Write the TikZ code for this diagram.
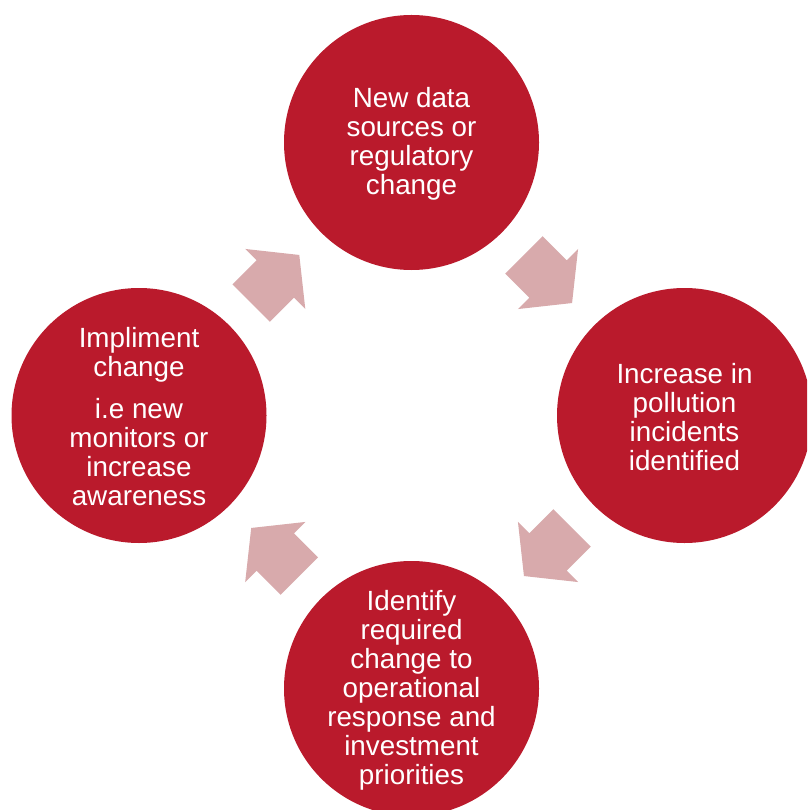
\documentclass[tikz,border=0pt]{standalone}
\usepackage{fontspec}
\setmainfont{Liberation Sans}
\usetikzlibrary{calc}

\definecolor{stagered}{RGB}{186,26,44}
\definecolor{arrowpink}{RGB}{216,170,172}

\tikzset{
  stage/.style={circle, fill=stagered, draw=none, minimum size=255pt, inner sep=0pt},
  stagetext/.style={text=white, align=center, inner sep=0pt, yshift=-1.5pt,
    font=\fontsize{27.8}{29}\selectfont},
  cyclearrow/.pic={
    \fill[arrowpink] (-34,-26.5) -- (0,-26.5) -- (0,-42.5) -- (34,0)
      -- (0,42.5) -- (0,26.5) -- (-34,26.5) -- cycle;
  }
}

\begin{document}
\begin{tikzpicture}[x=1pt, y=-1pt]
  \clip (0,0) rectangle (807,810);
  \fill[white] (0,0) rectangle (807,810);

  % the four stages of the cycle
  \node[stage] (top)    at (411.5,142.5) {};
  \node[stage] (right)  at (684.5,415.5) {};
  \node[stage] (bottom) at (411.5,688.5) {};
  \node[stage] (left)   at (139,415.5)   {};

  \node[stagetext] (toptext)    at (top)    {New data\\sources or\\regulatory\\change};
  \node[stagetext] (righttext)  at (right)  {Increase in\\pollution\\incidents\\identified};
  \node[stagetext] (bottomtext) at (bottom) {Identify\\required\\change to\\operational\\response and\\investment\\priorities};
  \node[stagetext] (lefttext)   at (left)   {Impliment\\change\\[13pt]i.e new\\monitors or\\increase\\awareness};

  % block arrows between neighbouring stages, clockwise
  \path ($(top)!0.5!(right)$)    pic[rotate=-45]  {cyclearrow};
  \path ($(right)!0.5!(bottom)$) pic[rotate=-135] {cyclearrow};
  \path ($(bottom)!0.5!(left)$)  pic[rotate=135]  {cyclearrow};
  \path ($(left)!0.5!(top)$)     pic[rotate=45]   {cyclearrow};
\end{tikzpicture}
\end{document}
